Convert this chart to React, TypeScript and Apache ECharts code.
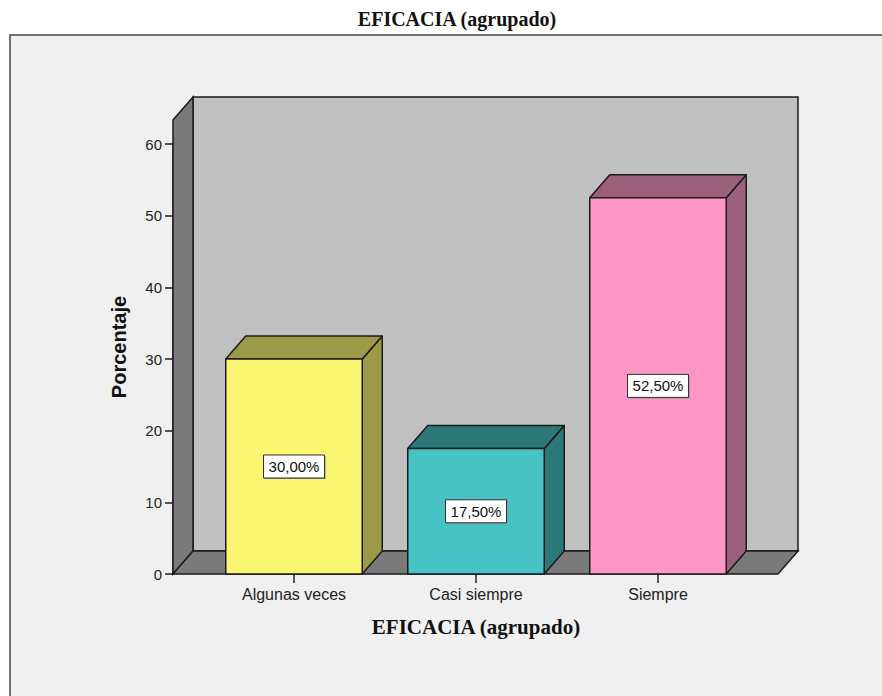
import React, { useEffect, useRef } from "react";
import * as echarts from "echarts";

const categories = ["Algunas veces", "Casi siempre", "Siempre"];
const values = [30.0, 17.5, 52.5];
const valueLabels = ["30,00%", "17,50%", "52,50%"];
const yTicks = [0, 10, 20, 30, 40, 50, 60];
const frontColors = ["#fbf672", "#47c3c6", "#fe97c6"];
const sideColors = ["#9c9a48", "#2c7879", "#9d607b"];

const DX = 20;
const DY = -23;
const EDGE = "#1a1a1a";

export default function App() {
  const ref = useRef<HTMLDivElement>(null);
  useEffect(() => {
    if (!ref.current) return;
    const chart = echarts.init(ref.current, null, { renderer: "svg" });
    const sans = "'Liberation Sans', Arial, sans-serif";
    const serif = "'Liberation Serif', 'Times New Roman', serif";
    chart.setOption({
      animation: false,
      backgroundColor: "#ffffff",
      title: {
        text: "EFICACIA (agrupado)",
        left: 452,
        top: 4,
        textAlign: "center",
        textStyle: { fontFamily: serif, fontWeight: "bold", fontSize: 20, color: "#111" },
      },
      graphic: [
        {
          type: "rect",
          z: -10,
          silent: true,
          shape: { x: 10, y: 35, width: 900, height: 700 },
          style: { fill: "#f0f0f0", stroke: "#707070", lineWidth: 2 },
        },
      ],
      grid: { left: 203, right: 133, top: 144, bottom: 122 },
      xAxis: {
        type: "category",
        data: categories,
        name: "EFICACIA (agrupado)",
        nameLocation: "middle",
        nameGap: 42,
        nameTextStyle: { fontFamily: serif, fontWeight: "bold", fontSize: 21, color: "#111" },
        axisLine: { show: false },
        axisTick: { show: true, alignWithLabel: true, length: 9, lineStyle: { color: "#222", width: 1.5 } },
        axisLabel: { fontFamily: sans, fontSize: 16, color: "#222", margin: 12 },
        splitLine: { show: false },
      },
      yAxis: {
        type: "value",
        min: 0,
        max: 60,
        interval: 10,
        offset: 30,
        name: "Porcentaje",
        nameLocation: "middle",
        nameGap: 44,
        nameTextStyle: { fontFamily: sans, fontWeight: "bold", fontSize: 20, color: "#111", padding: [0, 0, 0, 24] },
        axisLine: { show: true, lineStyle: { color: "#222", width: 1.5 } },
        axisTick: { show: true, length: 8, lineStyle: { color: "#222", width: 1.5 } },
        axisLabel: {
          fontFamily: sans,
          fontSize: 15,
          color: "#222",
          margin: 11,
          formatter: (v: number) => (yTicks.includes(v) ? String(v) : ""),
        },
        splitLine: { show: false },
      },
      series: [
        {
          type: "custom",
          z: 1,
          silent: true,
          data: [[0, 0]],
          renderItem: (params: any, api: any) => {
            const cs = params.coordSys;
            const yTop = api.coord([0, 60])[1] - 24;
            const y0 = api.coord([0, 0])[1];
            const fl = cs.x - 30;
            const fr = cs.x + cs.width + 29;
            const bl = fl + DX;
            const br = fr + DX;
            const style = (fill: string) => ({ fill, stroke: EDGE, lineWidth: 1.5 });
            return {
              type: "group",
              children: [
                {
                  type: "polygon",
                  shape: { points: [[bl, yTop + DY], [br, yTop + DY], [br, y0 + DY], [bl, y0 + DY]] },
                  style: style("#c0c0c0"),
                },
                {
                  type: "polygon",
                  shape: { points: [[fl, yTop], [bl, yTop + DY], [bl, y0 + DY], [fl, y0]] },
                  style: style("#7a7a7a"),
                },
                {
                  type: "polygon",
                  shape: { points: [[fl, y0], [bl, y0 + DY], [br, y0 + DY], [fr, y0]] },
                  style: style("#7a7a7a"),
                },
              ],
            };
          },
        },
        {
          type: "custom",
          z: 3,
          data: values.map((v, i) => [i, v]),
          renderItem: (params: any, api: any) => {
            const idx = api.value(0);
            const v = api.value(1);
            const top = api.coord([idx, v]);
            const bot = api.coord([idx, 0]);
            const mid = api.coord([idx, v / 2]);
            const bw = api.size([1, 0])[0] * 0.75;
            const l = top[0] - bw / 2;
            const r = top[0] + bw / 2;
            const t = top[1];
            const b = bot[1];
            const i = params.dataIndex;
            const st = (fill: string) => ({ fill, stroke: EDGE, lineWidth: 1.5, lineJoin: "round" });
            const lbl = valueLabels[i];
            const lw = 61;
            const lh = 23;
            return {
              type: "group",
              children: [
                {
                  type: "polygon",
                  shape: { points: [[r, t], [r + DX, t + DY], [r + DX, b + DY], [r, b]] },
                  style: st(sideColors[i]),
                },
                {
                  type: "polygon",
                  shape: { points: [[l, t], [l + DX, t + DY], [r + DX, t + DY], [r, t]] },
                  style: st(sideColors[i]),
                },
                {
                  type: "rect",
                  shape: { x: l, y: t, width: r - l, height: b - t },
                  style: st(frontColors[i]),
                },
                {
                  type: "rect",
                  shape: { x: mid[0] - lw / 2 + 1, y: mid[1] - lh / 2 + 1, width: lw, height: lh },
                  style: { fill: "#888", stroke: null },
                },
                {
                  type: "rect",
                  shape: { x: mid[0] - lw / 2, y: mid[1] - lh / 2, width: lw, height: lh },
                  style: { fill: "#ffffff", stroke: "#333", lineWidth: 1 },
                },
                {
                  type: "text",
                  x: mid[0],
                  y: mid[1],
                  style: {
                    text: lbl,
                    fill: "#111",
                    fontFamily: sans,
                    fontSize: 15,
                    align: "center",
                    verticalAlign: "middle",
                  },
                },
              ],
            };
          },
        },
      ],
    });
    return () => chart.dispose();
  }, []);
  return (
    <div
      ref={ref}
      style={{ position: "fixed", left: 0, top: 0, width: 882, height: 696 }}
    />
  );
}
